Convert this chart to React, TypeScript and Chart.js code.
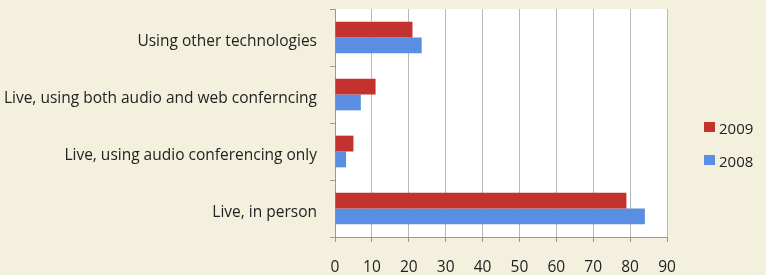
import React, { useEffect, useRef } from "react";
import { Chart, registerables } from "chart.js";

Chart.register(...registerables);

const categories = [
  "Using other technologies",
  "Live, using both audio and web conferncing",
  "Live, using audio conferencing only",
  "Live, in person",
];
const series2009 = [21, 11, 5, 79];
const series2008 = [23.5, 7, 3, 84];
const xTicks = [0, 10, 20, 30, 40, 50, 60, 70, 80, 90];

const RED = "#c3322e";
const BLUE = "#5a8ee2";
const FONT = "'Open Sans', sans-serif";

const bgPlugin = {
  id: "bg",
  beforeDraw(chart: any) {
    const { ctx, chartArea, width, height } = chart;
    ctx.save();
    ctx.fillStyle = "#f4f0de";
    ctx.fillRect(0, 0, width, height);
    ctx.fillStyle = "#ffffff";
    ctx.fillRect(chartArea.left, chartArea.top, chartArea.right - chartArea.left, chartArea.bottom - chartArea.top);
    ctx.restore();
  },
};

const legendPlugin = {
  id: "customLegend",
  afterDraw(chart: any) {
    const { ctx } = chart;
    ctx.save();
    ctx.font = `15px ${FONT}`;
    ctx.textBaseline = "middle";
    chart.data.datasets.forEach((ds: any, i: number) => {
      const y = 127 + i * 33;
      ctx.fillStyle = ds.backgroundColor;
      ctx.fillRect(704, y - 5, 11, 10);
      ctx.fillStyle = "#222";
      ctx.fillText(ds.label, 719, y + 2.5);
    });
    ctx.restore();
  },
};

export default function App() {
  const ref = useRef<HTMLCanvasElement | null>(null);
  useEffect(() => {
    const chart = new Chart(ref.current!, {
      type: "bar",
      data: {
        labels: categories,
        datasets: [
          { label: "2009", data: series2009, backgroundColor: RED, categoryPercentage: 0.556, barPercentage: 1 },
          { label: "2008", data: series2008, backgroundColor: BLUE, categoryPercentage: 0.556, barPercentage: 1 },
        ],
      },
      options: {
        indexAxis: "y",
        animation: false,
        responsive: false,
        maintainAspectRatio: false,
        layout: { padding: { top: 9, right: 99, bottom: 0, left: 0 } },
        plugins: { legend: { display: false }, tooltip: { enabled: false } },
        scales: {
          x: {
            min: 0,
            max: 90,
            afterBuildTicks(scale: any) {
              scale.ticks = xTicks.map((v) => ({ value: v }));
            },
            afterFit(scale: any) {
              scale.height = 38;
              scale.paddingLeft = 0;
              scale.paddingRight = 0;
            },
            grid: { color: "#b8b8b8", tickLength: 5, tickColor: "#999" },
            border: { color: "#999" },
            ticks: { color: "#222", font: { family: FONT, size: 15.5 }, padding: 16, maxRotation: 0 },
          },
          y: {
            afterFit(scale: any) {
              scale.width = 335;
              scale.paddingTop = 0;
              scale.paddingBottom = 0;
            },
            grid: { drawOnChartArea: false, tickLength: 5, tickColor: "#999", offset: true },
            border: { color: "#999" },
            ticks: { color: "#222", font: { family: FONT, size: 15.5 }, padding: 13, labelOffset: 4 },
          },
        },
      },
      plugins: [bgPlugin, legendPlugin],
    });
    return () => chart.destroy();
  }, []);
  return (
    <div style={{ position: "fixed", left: 0, top: 0, width: 766, height: 275 }}>
      <canvas ref={ref} width={766} height={275} style={{ width: 766, height: 275 }} />
    </div>
  );
}
